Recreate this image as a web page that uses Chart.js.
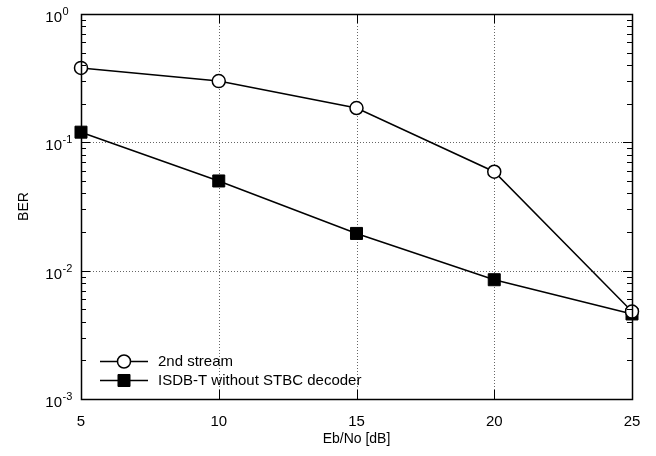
<!DOCTYPE html>
<html>
<head>
<meta charset="utf-8">
<script src="https://cdn.jsdelivr.net/npm/chart.js@4.4.1/dist/chart.umd.min.js"></script>
<style>
  html, body { margin: 0; padding: 0; background: #fff; }
  #wrap { width: 656px; height: 456px; }
</style>
</head>
<body>
<div id="wrap"><canvas id="berChart" width="656" height="456"></canvas></div>
<script>
// data
const ebno = [5, 10, 15, 20, 25];
const berStream2 = [0.38, 0.30, 0.185, 0.059, 0.0048];
const berIsdb = [0.12, 0.050, 0.0195, 0.0085, 0.0046];
const xTicks = [5, 10, 15, 20, 25];
const yExponents = [-3, -2, -1, 0];
const seriesNames = ["2nd stream", "ISDB-T without STBC decoder"];

const FONT = "'Liberation Sans', Arial, Helvetica, sans-serif";

// grid, ticks, frame, y labels and legend
const framePlugin = {
  id: "frame",
  beforeDatasetsDraw(chart) {
    const { ctx, chartArea: a, scales } = chart;
    const x = scales.x, y = scales.y;
    ctx.save();
    ctx.strokeStyle = "#666";
    ctx.lineWidth = 1;
    ctx.setLineDash([1, 2]);
    xTicks.slice(1, -1).forEach(v => {
      const px = Math.round(x.getPixelForValue(v)) + 0.5;
      ctx.beginPath(); ctx.moveTo(px, a.top); ctx.lineTo(px, a.bottom); ctx.stroke();
    });
    yExponents.slice(1, -1).forEach(e => {
      const py = Math.round(y.getPixelForValue(Math.pow(10, e))) + 0.5;
      ctx.beginPath(); ctx.moveTo(a.left, py); ctx.lineTo(a.right, py); ctx.stroke();
    });
    ctx.restore();
  },
  afterDatasetsDraw(chart) {
    const { ctx, chartArea: a, scales } = chart;
    const x = scales.x, y = scales.y;
    ctx.save();
    ctx.strokeStyle = "#000";
    ctx.lineWidth = 1;
    ctx.setLineDash([]);

    // minor + major ticks on y (inside, both sides)
    yExponents.forEach(e => {
      for (let m = 1; m <= 9; m++) {
        const v = m * Math.pow(10, e);
        if (v > 1.0001) break;
        const py = Math.round(y.getPixelForValue(v)) + 0.5;
        const len = m === 1 ? 9 : 5;
        ctx.beginPath();
        ctx.moveTo(a.left, py); ctx.lineTo(a.left + len, py);
        ctx.moveTo(a.right, py); ctx.lineTo(a.right - len, py);
        ctx.stroke();
      }
    });
    // major ticks on x
    xTicks.forEach(v => {
      const px = Math.round(x.getPixelForValue(v)) + 0.5;
      ctx.beginPath();
      ctx.moveTo(px, a.bottom); ctx.lineTo(px, a.bottom - 9);
      ctx.moveTo(px, a.top); ctx.lineTo(px, a.top + 9);
      ctx.stroke();
    });
    // frame
    ctx.lineWidth = 1.5;
    ctx.strokeRect(Math.round(a.left) + 0.5, Math.round(a.top) + 0.5,
      Math.round(a.right - a.left), Math.round(a.bottom - a.top));

    // y tick labels 10^e
    ctx.fillStyle = "#000";
    ctx.textBaseline = "alphabetic";
    yExponents.forEach(e => {
      const py = y.getPixelForValue(Math.pow(10, e));
      ctx.font = "15px " + FONT;
      ctx.textAlign = "right";
      ctx.fillText("10", 62, py + 8);
      ctx.font = "11px " + FONT;
      ctx.textAlign = "left";
      ctx.fillText(String(e), 62.5, py + 1);
    });

    // legend
    const rows = [
      { y: 361, ds: chart.data.datasets[0] },
      { y: 380, ds: chart.data.datasets[1] }
    ];
    rows.forEach(r => {
      ctx.lineWidth = 1.5;
      ctx.strokeStyle = "#000";
      ctx.beginPath(); ctx.moveTo(100, r.y + 0.5); ctx.lineTo(148, r.y + 0.5); ctx.stroke();
      ctx.fillStyle = r.ds.pointBackgroundColor;
      ctx.lineWidth = r.ds.pointBorderWidth;
      Chart.helpers.drawPoint(ctx, {
        pointStyle: r.ds.pointStyle, radius: r.ds.pointRadius, borderWidth: r.ds.pointBorderWidth
      }, 124, r.y + 0.5);
      ctx.fillStyle = "#000";
      ctx.font = "15px " + FONT;
      ctx.textAlign = "left";
      ctx.textBaseline = "middle";
      ctx.fillText(r.ds.label, 158, r.y + 1);
    });
    ctx.restore();
  }
};

new Chart(document.getElementById("berChart"), {
  type: "line",
  data: {
    datasets: [
      {
        label: seriesNames[0],
        data: ebno.map((v, i) => ({ x: v, y: berStream2[i] })),
        borderColor: "#000",
        borderWidth: 1.5,
        pointStyle: "circle",
        pointRadius: 6.5,
        pointBorderWidth: 1.5,
        pointBorderColor: "#000",
        pointBackgroundColor: "#fff",
        tension: 0
      },
      {
        label: seriesNames[1],
        data: ebno.map((v, i) => ({ x: v, y: berIsdb[i] })),
        borderColor: "#000",
        borderWidth: 1.5,
        pointStyle: "rect",
        pointRadius: 8.5,
        pointBorderWidth: 1,
        pointBorderColor: "#000",
        pointBackgroundColor: "#000",
        tension: 0
      }
    ]
  },
  options: {
    responsive: false,
    animation: false,
    clip: false,
    layout: { padding: { left: 0, right: 24, top: 14, bottom: 0 } },
    plugins: {
      legend: { display: false },
      tooltip: { enabled: false }
    },
    scales: {
      x: {
        type: "linear",
        min: 5,
        max: 25,
        afterBuildTicks: s => { s.ticks = xTicks.map(v => ({ value: v })); },
        ticks: { color: "#000", font: { family: FONT, size: 15 }, padding: 6, maxRotation: 0 },
        grid: { display: false },
        border: { display: false },
        title: {
          display: true, text: "Eb/No [dB]", color: "#000",
          font: { family: FONT, size: 14 }, padding: { top: 0, bottom: 8 }
        },
        afterFit: s => { s.height = 57; }
      },
      y: {
        type: "logarithmic",
        min: 0.001,
        max: 1,
        ticks: { display: false },
        grid: { display: false },
        border: { display: false },
        title: {
          display: true, text: "BER", color: "#000",
          font: { family: FONT, size: 14 }, padding: { top: 16, bottom: 0 }
        },
        afterFit: s => { s.width = 81; }
      }
    }
  },
  plugins: [framePlugin]
});
</script>
</body>
</html>
